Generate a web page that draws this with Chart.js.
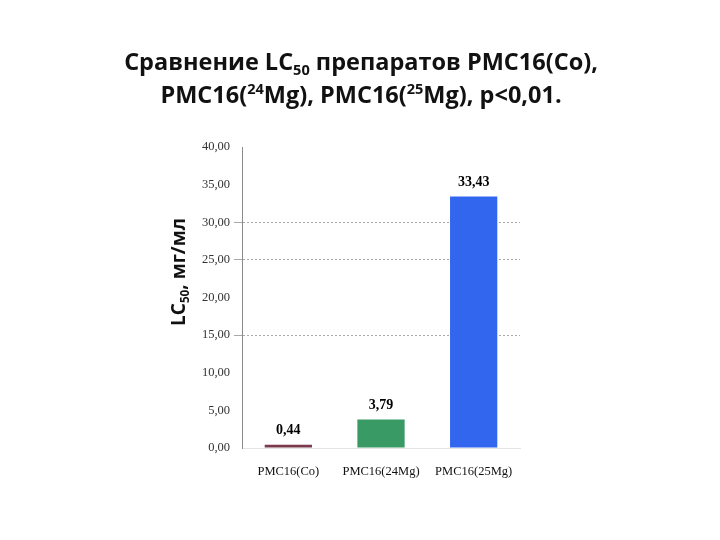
<!DOCTYPE html>
<html>
<head>
<meta charset="utf-8">
<script src="https://cdn.jsdelivr.net/npm/chart.js@4"></script>
<style>
	html, body { margin: 0; padding: 0; background: #fff; }
	#wrap { width: 720px; height: 540px; }
</style>
</head>
<body>
<div id="wrap"><canvas id="chart"></canvas></div>
<script>
const categories = ['PMC16(Co)', 'PMC16(24Mg)', 'PMC16(25Mg)'];
const values = [0.44, 3.79, 33.43];
const valueLabels = ['0,44', '3,79', '33,43'];
const barColors = ['#7a3a4c', '#3a9a66', '#3366ee'];
const yTicks = [0, 5, 10, 15, 20, 25, 30, 35, 40];
const gridShown = [15, 25, 30];

const titleLines = [
	[['Сравнение LC', ''], ['50', 'sub'], [' препаратов PMC16(Co),', '']],
	[['PMC16(', ''], ['24', 'sup'], ['Mg), PMC16(', ''], ['25', 'sup'], ['Mg), p<0,01.', '']]
];
const axisTitle = [['LC', ''], ['50', 'sub'], [', мг/мл', '']];

const runWidth = (ctx, runs, size) => {
	let w = 0;
	for (const [t, k] of runs) {
		ctx.font = 'bold ' + (k ? size * 0.62 : size) + 'px "Open Sans", sans-serif';
		w += ctx.measureText(t).width;
	}
	return w;
};
const drawRuns = (ctx, runs, x, y, size) => {
	for (const [t, k] of runs) {
		const s = k ? size * 0.62 : size;
		ctx.font = 'bold ' + s + 'px "Open Sans", sans-serif';
		const dy = k === 'sub' ? size * 0.22 : k === 'sup' ? -size * 0.38 : 0;
		ctx.fillText(t, x, y + dy);
		x += ctx.measureText(t).width;
	}
};

const textPlugin = {
	id: 'texts',
	afterDraw: chart => {
		const ctx = chart.ctx;
		ctx.save();
		ctx.fillStyle = '#111';
		ctx.textAlign = 'left';
		ctx.textBaseline = 'alphabetic';
		const size = 23.5;
		titleLines.forEach((line, i) => {
			const w = runWidth(ctx, line, size);
			drawRuns(ctx, line, 361 - w / 2, 70 + i * 33, size);
		});
		// rotated axis title
		ctx.translate(185, 272);
		ctx.rotate(-Math.PI / 2);
		const aw = runWidth(ctx, axisTitle, 19);
		drawRuns(ctx, axisTitle, -aw / 2, 0, 19);
		ctx.restore();

		// value labels
		ctx.save();
		ctx.fillStyle = '#000';
		ctx.font = 'bold 14px "Liberation Serif", serif';
		ctx.textAlign = 'center';
		ctx.textBaseline = 'bottom';
		const meta = chart.getDatasetMeta(0);
		meta.data.forEach((bar, i) => {
			ctx.fillText(valueLabels[i], bar.x, bar.y - 7);
		});
		ctx.restore();
	}
};

new Chart('chart', {
	type: 'bar',
	data: {
		labels: categories,
		datasets: [{
			data: values,
			backgroundColor: barColors,
			borderWidth: 0,
			barPercentage: 0.51,
			categoryPercentage: 1
		}]
	},
	options: {
		responsive: true,
		maintainAspectRatio: false,
		animation: false,
		layout: {
			padding: { left: 182, right: 200, top: 147, bottom: 0 }
		},
		plugins: {
			legend: { display: false },
			tooltip: { enabled: false }
		},
		scales: {
			x: {
				afterFit: scale => { scale.height = 92; },
				grid: { display: false },
				border: { display: true, color: '#e4e4e4' },
				ticks: {
					color: '#111',
					font: { family: '"Liberation Serif", serif', size: 12.5 },
					padding: 8,
					maxRotation: 0
				}
			},
			y: {
				min: 0,
				max: 40,
				afterFit: scale => { scale.width = 60; },
				afterBuildTicks: scale => {
					scale.ticks = yTicks.map(v => ({ value: v }));
				},
				border: { display: true, color: '#8a8a8a', width: 1, dash: [2, 2] },
				grid: {
					color: c => gridShown.includes(c.tick.value) ? '#a8a8a8' : 'rgba(0,0,0,0)',
					lineWidth: 1,
					tickLength: 8,
					drawTicks: true
				},
				ticks: {
					color: '#333',
					padding: 4,
					font: { family: '"Liberation Serif", serif', size: 12.5 },
					callback: v => v.toFixed(2).replace('.', ',')
				}
			}
		}
	},
	plugins: [textPlugin]
});
</script>
</body>
</html>
